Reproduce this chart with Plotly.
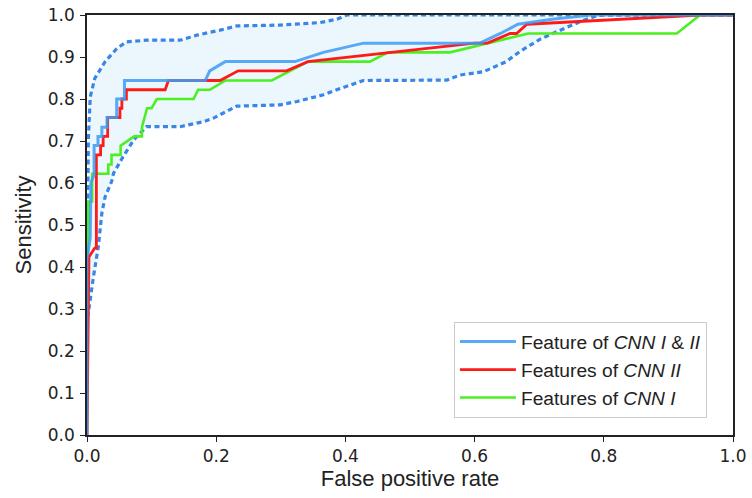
import plotly.graph_objects as go

# Feature of CNN I & II
fpr_both = [0, 0, 0.005, 0.006, 0.011, 0.011, 0.017, 0.017, 0.023, 0.023, 0.031, 0.031, 0.046, 0.046,
            0.058, 0.058, 0.183, 0.19, 0.214, 0.322, 0.366, 0.428, 0.608, 0.64, 0.667, 0.72, 0.78, 1.0]
tpr_both = [0, 0.42, 0.47, 0.60, 0.62, 0.689, 0.689, 0.711, 0.711, 0.733, 0.733, 0.756, 0.756, 0.80,
            0.80, 0.844, 0.844, 0.867, 0.889, 0.889, 0.911, 0.933, 0.933, 0.956, 0.978, 0.99, 1.0, 1.0]

# Features of CNN II
fpr_cnn2 = [0, 0.002, 0.003, 0.012, 0.0145, 0.0145, 0.021, 0.021, 0.025, 0.025, 0.032, 0.032, 0.051, 0.051,
            0.054, 0.054, 0.061, 0.061, 0.121, 0.126, 0.206, 0.234, 0.309, 0.342, 0.60, 0.62, 0.655, 0.665,
            0.681, 0.95, 1.0]
tpr_cnn2 = [0, 0.40, 0.424, 0.445, 0.445, 0.667, 0.667, 0.689, 0.689, 0.711, 0.711, 0.756, 0.756, 0.778,
            0.778, 0.80, 0.80, 0.822, 0.822, 0.844, 0.844, 0.867, 0.867, 0.889, 0.933, 0.933, 0.956, 0.956,
            0.978, 1.0, 1.0]

# Features of CNN I
fpr_cnn1 = [0, 0.002, 0.008, 0.008, 0.033, 0.033, 0.038, 0.038, 0.052, 0.052, 0.073, 0.085, 0.085, 0.093,
            0.10, 0.108, 0.165, 0.172, 0.19, 0.214, 0.286, 0.342, 0.438, 0.466, 0.562, 0.683, 0.913, 0.931,
            0.949, 1.0]
tpr_cnn1 = [0, 0.556, 0.556, 0.622, 0.622, 0.644, 0.644, 0.667, 0.667, 0.689, 0.711, 0.711, 0.733, 0.778,
            0.778, 0.80, 0.80, 0.822, 0.822, 0.844, 0.844, 0.889, 0.889, 0.911, 0.911, 0.956, 0.956, 0.978,
            1.0, 1.0]

# Confidence band
fpr_upper = [0, 0.002, 0.005, 0.012, 0.028, 0.046, 0.061, 0.092, 0.144, 0.17, 0.206, 0.232, 0.299, 0.361,
             0.387, 0.402, 0.45, 1.0]
tpr_upper = [0.30, 0.70, 0.805, 0.849, 0.889, 0.92, 0.936, 0.94, 0.94, 0.952, 0.964, 0.974, 0.976, 0.982,
             0.99, 1.0, 1.0, 1.0]
fpr_lower = [0.0, 0.002, 0.01, 0.0175, 0.023, 0.028, 0.038, 0.041, 0.056, 0.072, 0.092, 0.144, 0.18, 0.195,
             0.232, 0.299, 0.325, 0.366, 0.392, 0.428, 0.557, 0.577, 0.614, 0.649, 0.67, 0.701, 0.727,
             0.763, 0.789, 0.80, 1.0]
tpr_lower = [0.28, 0.29, 0.377, 0.448, 0.528, 0.567, 0.603, 0.623, 0.663, 0.702, 0.734, 0.734, 0.746, 0.754,
             0.783, 0.786, 0.794, 0.81, 0.825, 0.844, 0.845, 0.857, 0.865, 0.889, 0.913, 0.942, 0.96,
             0.984, 0.998, 1.0, 1.0]

ticks = [0.0, 0.1, 0.2, 0.3, 0.4, 0.5, 0.6, 0.7, 0.8, 0.9, 1.0]
xticks = [0.0, 0.2, 0.4, 0.6, 0.8, 1.0]

fig = go.Figure()

# band fill
fig.add_trace(go.Scatter(
    x=fpr_upper + fpr_lower[::-1], y=tpr_upper + tpr_lower[::-1],
    fill="toself", fillcolor="rgba(222,242,252,0.6)", line=dict(width=0),
    mode="lines", showlegend=False, hoverinfo="skip"))

for xs, ys in [(fpr_upper, tpr_upper), (fpr_lower, tpr_lower)]:
    fig.add_trace(go.Scatter(x=xs, y=ys, mode="lines", showlegend=False,
                             line=dict(color="#3a86e8", width=3.2, dash="5px,3.5px")))

fig.add_trace(go.Scatter(x=fpr_cnn1, y=tpr_cnn1, mode="lines", name="Features of <i>CNN I</i>",
                         line=dict(color="#4cf020", width=2.6)))
fig.add_trace(go.Scatter(x=fpr_cnn2, y=tpr_cnn2, mode="lines", name="Features of <i>CNN II</i>",
                         line=dict(color="#ff1a1a", width=2.8)))
fig.add_trace(go.Scatter(x=fpr_both, y=tpr_both, mode="lines", name="Feature of <i>CNN I</i> & <i>II</i>",
                         line=dict(color="rgba(60,155,245,0.85)", width=3)))

axis_common = dict(showline=True, linecolor="#222", linewidth=1.5, mirror=True,
                   ticks="outside", ticklen=5, tickwidth=1.3, tickcolor="#222",
                   showgrid=False, zeroline=False, automargin=False,
                   tickfont=dict(family="DejaVu Sans", size=17, color="#222"))

fig.update_layout(
    width=752, height=498,
    margin=dict(l=87, r=19, t=15, b=63),
    paper_bgcolor="white", plot_bgcolor="white",
    xaxis=dict(range=[0, 1], tickvals=xticks, ticktext=[f"{v:.1f}" for v in xticks],
               title=dict(text="False positive rate", standoff=5,
                          font=dict(family="Liberation Sans", size=22, color="#222")),
               **axis_common),
    yaxis=dict(range=[0, 1], tickvals=ticks, ticktext=[f"{v:.1f}" for v in ticks],
               ticklabelstandoff=2,
               title=dict(text="Sensitivity", standoff=10,
                          font=dict(family="Liberation Sans", size=22, color="#222")),
               **axis_common),
    legend=dict(x=0.568, y=0.27, xanchor="left", yanchor="top", traceorder="reversed",
                bgcolor="white", bordercolor="#cccccc", borderwidth=1,
                font=dict(family="Liberation Sans", size=19.2, color="#222"),
                itemwidth=56),
)

fig.write_html("out.html", post_script="document.body.style.margin='0';",
               config={"displayModeBar": False})
